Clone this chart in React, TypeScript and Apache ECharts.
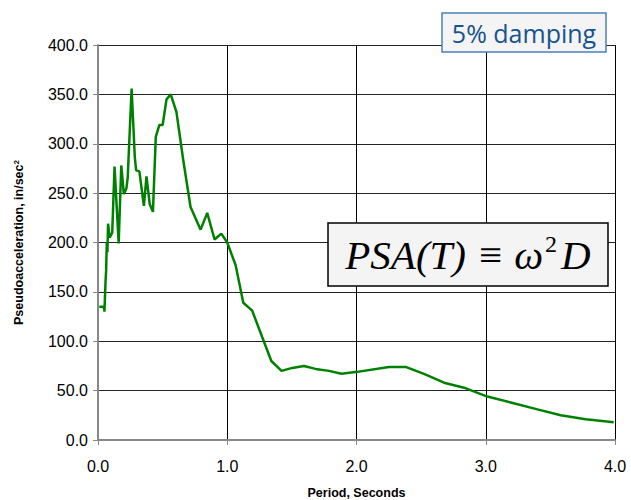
import React, { useEffect, useRef } from "react";
import * as echarts from "echarts";

const periods: number[] = [
  0.01, 0.045, 0.05, 0.058, 0.063, 0.068, 0.073, 0.078, 0.09, 0.11, 0.128, 0.16, 0.18, 0.2,
  0.22, 0.23, 0.26, 0.285, 0.295, 0.32, 0.355, 0.375, 0.4, 0.425, 0.447, 0.475, 0.5, 0.53,
  0.563, 0.607, 0.66, 0.716, 0.794, 0.845, 0.902, 0.954, 1.0, 1.065, 1.124, 1.193, 1.271,
  1.341, 1.42, 1.503, 1.593, 1.684, 1.787, 1.883, 2.006, 2.251, 2.38, 2.522, 2.677, 2.832,
  3.012, 3.193, 3.4, 3.58, 3.773, 3.99,
];
const psaValues: number[] = [
  135, 135, 130, 160, 172, 200, 190, 219, 205, 210, 277, 199, 278, 249,
  255, 266, 356, 286, 273, 272, 237, 267, 239, 231, 307, 319, 319, 345,
  350, 332, 283, 236, 213, 230, 203, 209, 200, 177, 139, 131, 104,
  80, 70, 73, 75, 72, 70, 67, 69, 74, 74, 67, 58, 53,
  44, 38, 31, 25, 21, 18,
];

const xTicks = { min: 0, max: 4, interval: 1 };
const yTicks = { min: 0, max: 400, interval: 50 };
const yTitle = "Pseudoacceleration, in/sec";
const xTitle = "Period, Seconds";
const dampingLabel = "5% damping";

export default function App() {
  const ref = useRef<HTMLDivElement>(null);
  useEffect(() => {
    if (!ref.current) return;
    const chart = echarts.init(ref.current, undefined, { renderer: "svg" });
    const data = periods.map((p, i) => [p, psaValues[i]]);
    chart.setOption({
      animation: false,
      backgroundColor: "#ffffff",
      grid: { left: 98, right: 16, top: 45, bottom: 60, containLabel: false, outerBoundsMode: "none" },
      xAxis: {
        type: "value",
        min: xTicks.min,
        max: xTicks.max,
        interval: xTicks.interval,
        name: xTitle,
        nameLocation: "middle",
        nameGap: 46,
        nameTextStyle: { fontFamily: "Liberation Sans", fontWeight: "bold", fontSize: 12.5, color: "#000" },
        axisLine: { show: true, lineStyle: { color: "#888", width: 2 } },
        axisTick: { show: true, length: 5, lineStyle: { color: "#888" } },
        axisLabel: {
          formatter: (v: number) => v.toFixed(1),
          fontFamily: "Liberation Sans",
          fontSize: 16,
          color: "#000",
          margin: 18,
        },
        splitLine: { show: true, lineStyle: { color: "#000", width: 1 } },
      },
      yAxis: {
        type: "value",
        min: yTicks.min,
        max: yTicks.max,
        interval: yTicks.interval,
        name: yTitle + "{sup|2}",
        nameLocation: "middle",
        nameGap: 72,
        nameRotate: 90,
        nameTextStyle: {
          fontFamily: "Liberation Sans",
          fontWeight: "bold",
          fontSize: 12.5,
          color: "#000",
          rich: {
            sup: { fontSize: 8, fontWeight: "bold", verticalAlign: "top", padding: [0, 0, 6, 0], fontFamily: "Liberation Sans" },
          },
        },
        axisLine: { show: true, lineStyle: { color: "#888", width: 2 } },
        axisTick: { show: true, length: 5, lineStyle: { color: "#888" } },
        axisLabel: {
          formatter: (v: number) => v.toFixed(1),
          fontFamily: "Liberation Sans",
          fontSize: 16,
          color: "#000",
          margin: 10,
        },
        splitLine: { show: true, lineStyle: { color: "#222", width: 1 } },
      },
      series: [
        {
          type: "line",
          data,
          showSymbol: false,
          symbol: "none",
          lineStyle: { color: "#008000", width: 2.5 },
        },
      ],
      graphic: [
        {
          type: "rect",
          shape: { x: 442, y: 13, width: 164, height: 39 },
          style: { fill: "#f4f4f4", stroke: "#4a80b8", lineWidth: 1.5 },
          z: 100,
        },
        {
          type: "text",
          x: 524,
          y: 33,
          style: {
            text: dampingLabel,
            fill: "#17538f",
            font: "500 25px 'Open Sans'",
            align: "center",
            verticalAlign: "middle",
          },
          z: 101,
        },
        {
          type: "rect",
          shape: { x: 328, y: 223, width: 280, height: 63 },
          style: { fill: "#f4f4f4", stroke: "#000", lineWidth: 1.5 },
          z: 100,
        },
        {
          type: "text",
          x: 468,
          y: 255,
          style: {
            text: "{m|PSA(T) ≡ ω}{s|2}{m|D}",
            align: "center",
            verticalAlign: "middle",
            rich: {
              m: { fontFamily: "Liberation Serif", fontStyle: "italic", fontSize: 41, fill: "#000" },
              s: { fontFamily: "Liberation Serif", fontSize: 24, fill: "#000", verticalAlign: "top", padding: [0, 4, 22, 2] },
            },
          },
          z: 101,
        },
      ],
    });
    return () => chart.dispose();
  }, []);
  return (
    <div
      ref={ref}
      style={{ position: "fixed", left: 0, top: 0, width: 631, height: 500, background: "#fff" }}
    />
  );
}
